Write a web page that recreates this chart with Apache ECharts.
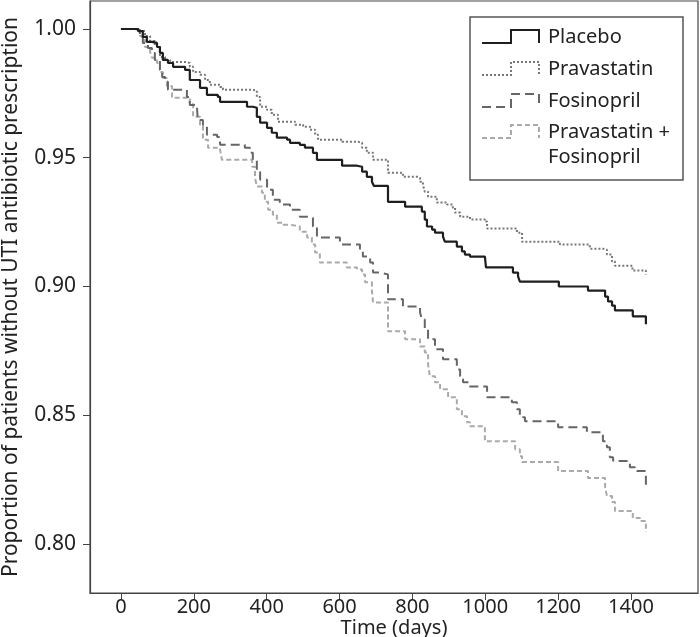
<!DOCTYPE html>
<html><head><meta charset="utf-8">
<script src="https://cdn.jsdelivr.net/npm/echarts@6/dist/echarts.min.js"></script>
<style>html,body{margin:0;padding:0;background:#fff}#c{width:700px;height:637px}</style>
</head><body><div id="c"></div>
<script>
const seriesNames = ['Placebo', 'Pravastatin', 'Fosinopril', 'Pravastatin +\nFosinopril'];
const xTicks = [0, 200, 400, 600, 800, 1000, 1200, 1400];
const yTicks = [0.80, 0.85, 0.90, 0.95, 1.00];

const placeboDays = [0,47,60,71,85,99,107,115,129,143,176,189,217,236,266,272,346,362,373,382,401,414,428,456,464,491,505,527,538,607,648,662,675,689,694,733,780,826,834,840,854,862,884,889,922,936,944,958,999,1002,1076,1090,1095,1202,1282,1329,1337,1348,1356,1405,1441];
const placeboSurv = [1,0.9992,0.9969,0.9950,0.9946,0.9930,0.9907,0.9880,0.9868,0.9853,0.9841,0.9802,0.9771,0.9744,0.9736,0.9717,0.9698,0.9694,0.9659,0.9636,0.9616,0.9597,0.9578,0.9570,0.9558,0.9550,0.9539,0.9519,0.9492,0.9469,0.9465,0.9446,0.9426,0.9407,0.9391,0.9329,0.9310,0.9291,0.9260,0.9233,0.9221,0.9209,0.9194,0.9174,0.9155,0.9136,0.9124,0.9116,0.9109,0.9074,0.9054,0.9039,0.9019,0.9000,0.8984,0.8961,0.8942,0.8926,0.8907,0.8884,0.8853];

const pravaDays = [0,52,66,80,93,107,121,135,181,189,198,217,231,244,272,280,362,373,382,401,414,431,478,500,519,533,541,607,651,662,675,692,733,774,813,821,829,834,843,867,895,911,917,931,958,999,1005,1087,1101,1205,1287,1323,1334,1348,1356,1404,1441];
const pravaSurv = [1,0.9992,0.9973,0.9953,0.9934,0.9891,0.9880,0.9872,0.9868,0.9853,0.9833,0.9822,0.9802,0.9783,0.9775,0.9764,0.9760,0.9736,0.9698,0.9686,0.9667,0.9640,0.9628,0.9620,0.9609,0.9589,0.9570,0.9562,0.9558,0.9539,0.9519,0.9492,0.9442,0.9426,0.9422,0.9407,0.9395,0.9368,0.9349,0.9326,0.9318,0.9306,0.9287,0.9271,0.9260,0.9252,0.9225,0.9209,0.9174,0.9163,0.9147,0.9143,0.9124,0.9097,0.9081,0.9062,0.9047];

const fosiDays = [0,38,52,60,74,85,93,107,113,121,129,181,189,209,211,225,236,264,272,340,354,362,373,382,401,417,436,464,491,511,527,538,601,656,664,684,692,711,733,774,821,826,834,843,862,884,922,931,939,958,1005,1073,1087,1095,1109,1200,1279,1323,1334,1342,1351,1397,1411,1441];
const fosiSurv = [1,0.9996,0.9977,0.9946,0.9926,0.9907,0.9880,0.9841,0.9814,0.9795,0.9764,0.9736,0.9705,0.9686,0.9647,0.9628,0.9589,0.9581,0.9550,0.9539,0.9519,0.9492,0.9453,0.9415,0.9376,0.9337,0.9318,0.9298,0.9271,0.9267,0.9233,0.9190,0.9163,0.9136,0.9116,0.9093,0.9054,0.9047,0.8950,0.8922,0.8899,0.8872,0.8833,0.8795,0.8756,0.8717,0.8678,0.8651,0.8628,0.8612,0.8570,0.8550,0.8523,0.8492,0.8477,0.8453,0.8434,0.8399,0.8376,0.8337,0.8322,0.8298,0.8283,0.8225];

const comboDays = [0,38,52,58,66,80,85,99,107,115,126,140,189,198,217,225,239,272,277,360,368,373,387,395,404,417,428,445,464,491,511,524,533,546,620,648,662,670,689,692,733,780,821,834,843,848,862,876,898,922,936,950,958,999,1082,1095,1101,1200,1282,1329,1334,1348,1356,1405,1425,1441];
const comboSurv = [1,0.9996,0.9973,0.9957,0.9930,0.9911,0.9888,0.9868,0.9833,0.9810,0.9779,0.9733,0.9713,0.9659,0.9628,0.9570,0.9539,0.9531,0.9492,0.9465,0.9422,0.9388,0.9364,0.9329,0.9298,0.9279,0.9248,0.9240,0.9233,0.9213,0.9190,0.9163,0.9132,0.9093,0.9074,0.9066,0.9047,0.9016,0.8981,0.8938,0.8826,0.8795,0.8767,0.8744,0.8698,0.8651,0.8628,0.8601,0.8570,0.8523,0.8496,0.8473,0.8457,0.8399,0.8368,0.8341,0.8318,0.8283,0.8256,0.8221,0.8186,0.8163,0.8128,0.8101,0.8089,0.8047];

const FONT = '"Noto Sans", "DejaVu Sans", sans-serif';
const styles = [
  {color: '#1e1e1e', width: 2.2, type: 'solid'},
  {color: '#777777', width: 2, type: [2, 2]},
  {color: '#666666', width: 2, type: [9, 5]},
  {color: '#aaaaaa', width: 2, type: [5, 3]}
];
const pairs = (d, s) => d.map((v, i) => [v, s[i]]);
const allData = [pairs(placeboDays, placeboSurv), pairs(pravaDays, pravaSurv), pairs(fosiDays, fosiSurv), pairs(comboDays, comboSurv)];

const series = [3, 2, 1, 0].map(k => ({
  name: seriesNames[k], type: 'line', step: 'end', symbol: 'none',
  data: allData[k], z: 10 - k,
  lineStyle: {color: styles[k].color, width: styles[k].width, type: styles[k].type}
}));

// legend drawn as graphic (step icons)
const legX = 470, legY = 17, legW = 213, legH = 163;
const rowY = [37, 69, 101, 132];
const graphics = [{type: 'rect', shape: {x: legX, y: legY, width: legW, height: legH},
  style: {fill: '#fff', stroke: '#555', lineWidth: 1.5}, z: 100}];
rowY.forEach((cy, k) => {
  graphics.push({type: 'polyline', z: 101,
    shape: {points: [[482, cy + 6], [511, cy + 6], [511, cy - 7], [539, cy - 7], [539, cy + 6]]},
    style: {stroke: styles[k].color, lineWidth: 2, fill: null,
      lineDash: styles[k].type === 'solid' ? null : styles[k].type}});
  const lines = seriesNames[k].split('\n');
  lines.forEach((t, j) => graphics.push({type: 'text', z: 101, x: 548, y: cy + j * 25,
    style: {text: t, font: '20px ' + FONT, fill: '#222', verticalAlign: 'middle', textVerticalAlign: 'middle'}}));
});

const chart = echarts.init(document.getElementById('c'));
chart.setOption({
  animation: false,
  backgroundColor: '#fff',
  grid: {left: 90, right: 2, top: 1, bottom: 44, show: true, borderColor: '#444', borderWidth: 1.2,
    outerBoundsMode: 'none', containLabel: false},
  xAxis: {
    type: 'value', min: -85, max: 1584,
    name: 'Time (days)', nameLocation: 'middle', nameGap: 25, nameMoveOverlap: false,
    nameTextStyle: {fontSize: 20, fontFamily: FONT, color: '#222'},
    axisLine: {show: true, onZero: false, lineStyle: {color: '#444', width: 1.2}},
    axisTick: {show: true, customValues: xTicks, length: 7, lineStyle: {color: '#444'}},
    axisLabel: {customValues: xTicks, fontSize: 20, fontFamily: FONT, color: '#222', margin: 4,
      formatter: v => String(v)},
    splitLine: {show: false}
  },
  yAxis: {
    type: 'value', min: 0.78097, max: 1.01087,
    name: 'Proportion of patients without UTI antibiotic prescription',
    nameLocation: 'middle', nameGap: 68, nameMoveOverlap: false,
    nameTextStyle: {fontSize: 21, fontFamily: FONT, color: '#222'},
    axisLine: {show: true, onZero: false, lineStyle: {color: '#444', width: 1.2}},
    axisTick: {show: true, customValues: yTicks, length: 7, lineStyle: {color: '#444'}},
    axisLabel: {customValues: yTicks, fontSize: 21, fontFamily: FONT, color: '#222', margin: 14,
      formatter: v => v.toFixed(2)},
    splitLine: {show: false}
  },
  series: series,
  graphic: graphics
});
</script></body></html>
